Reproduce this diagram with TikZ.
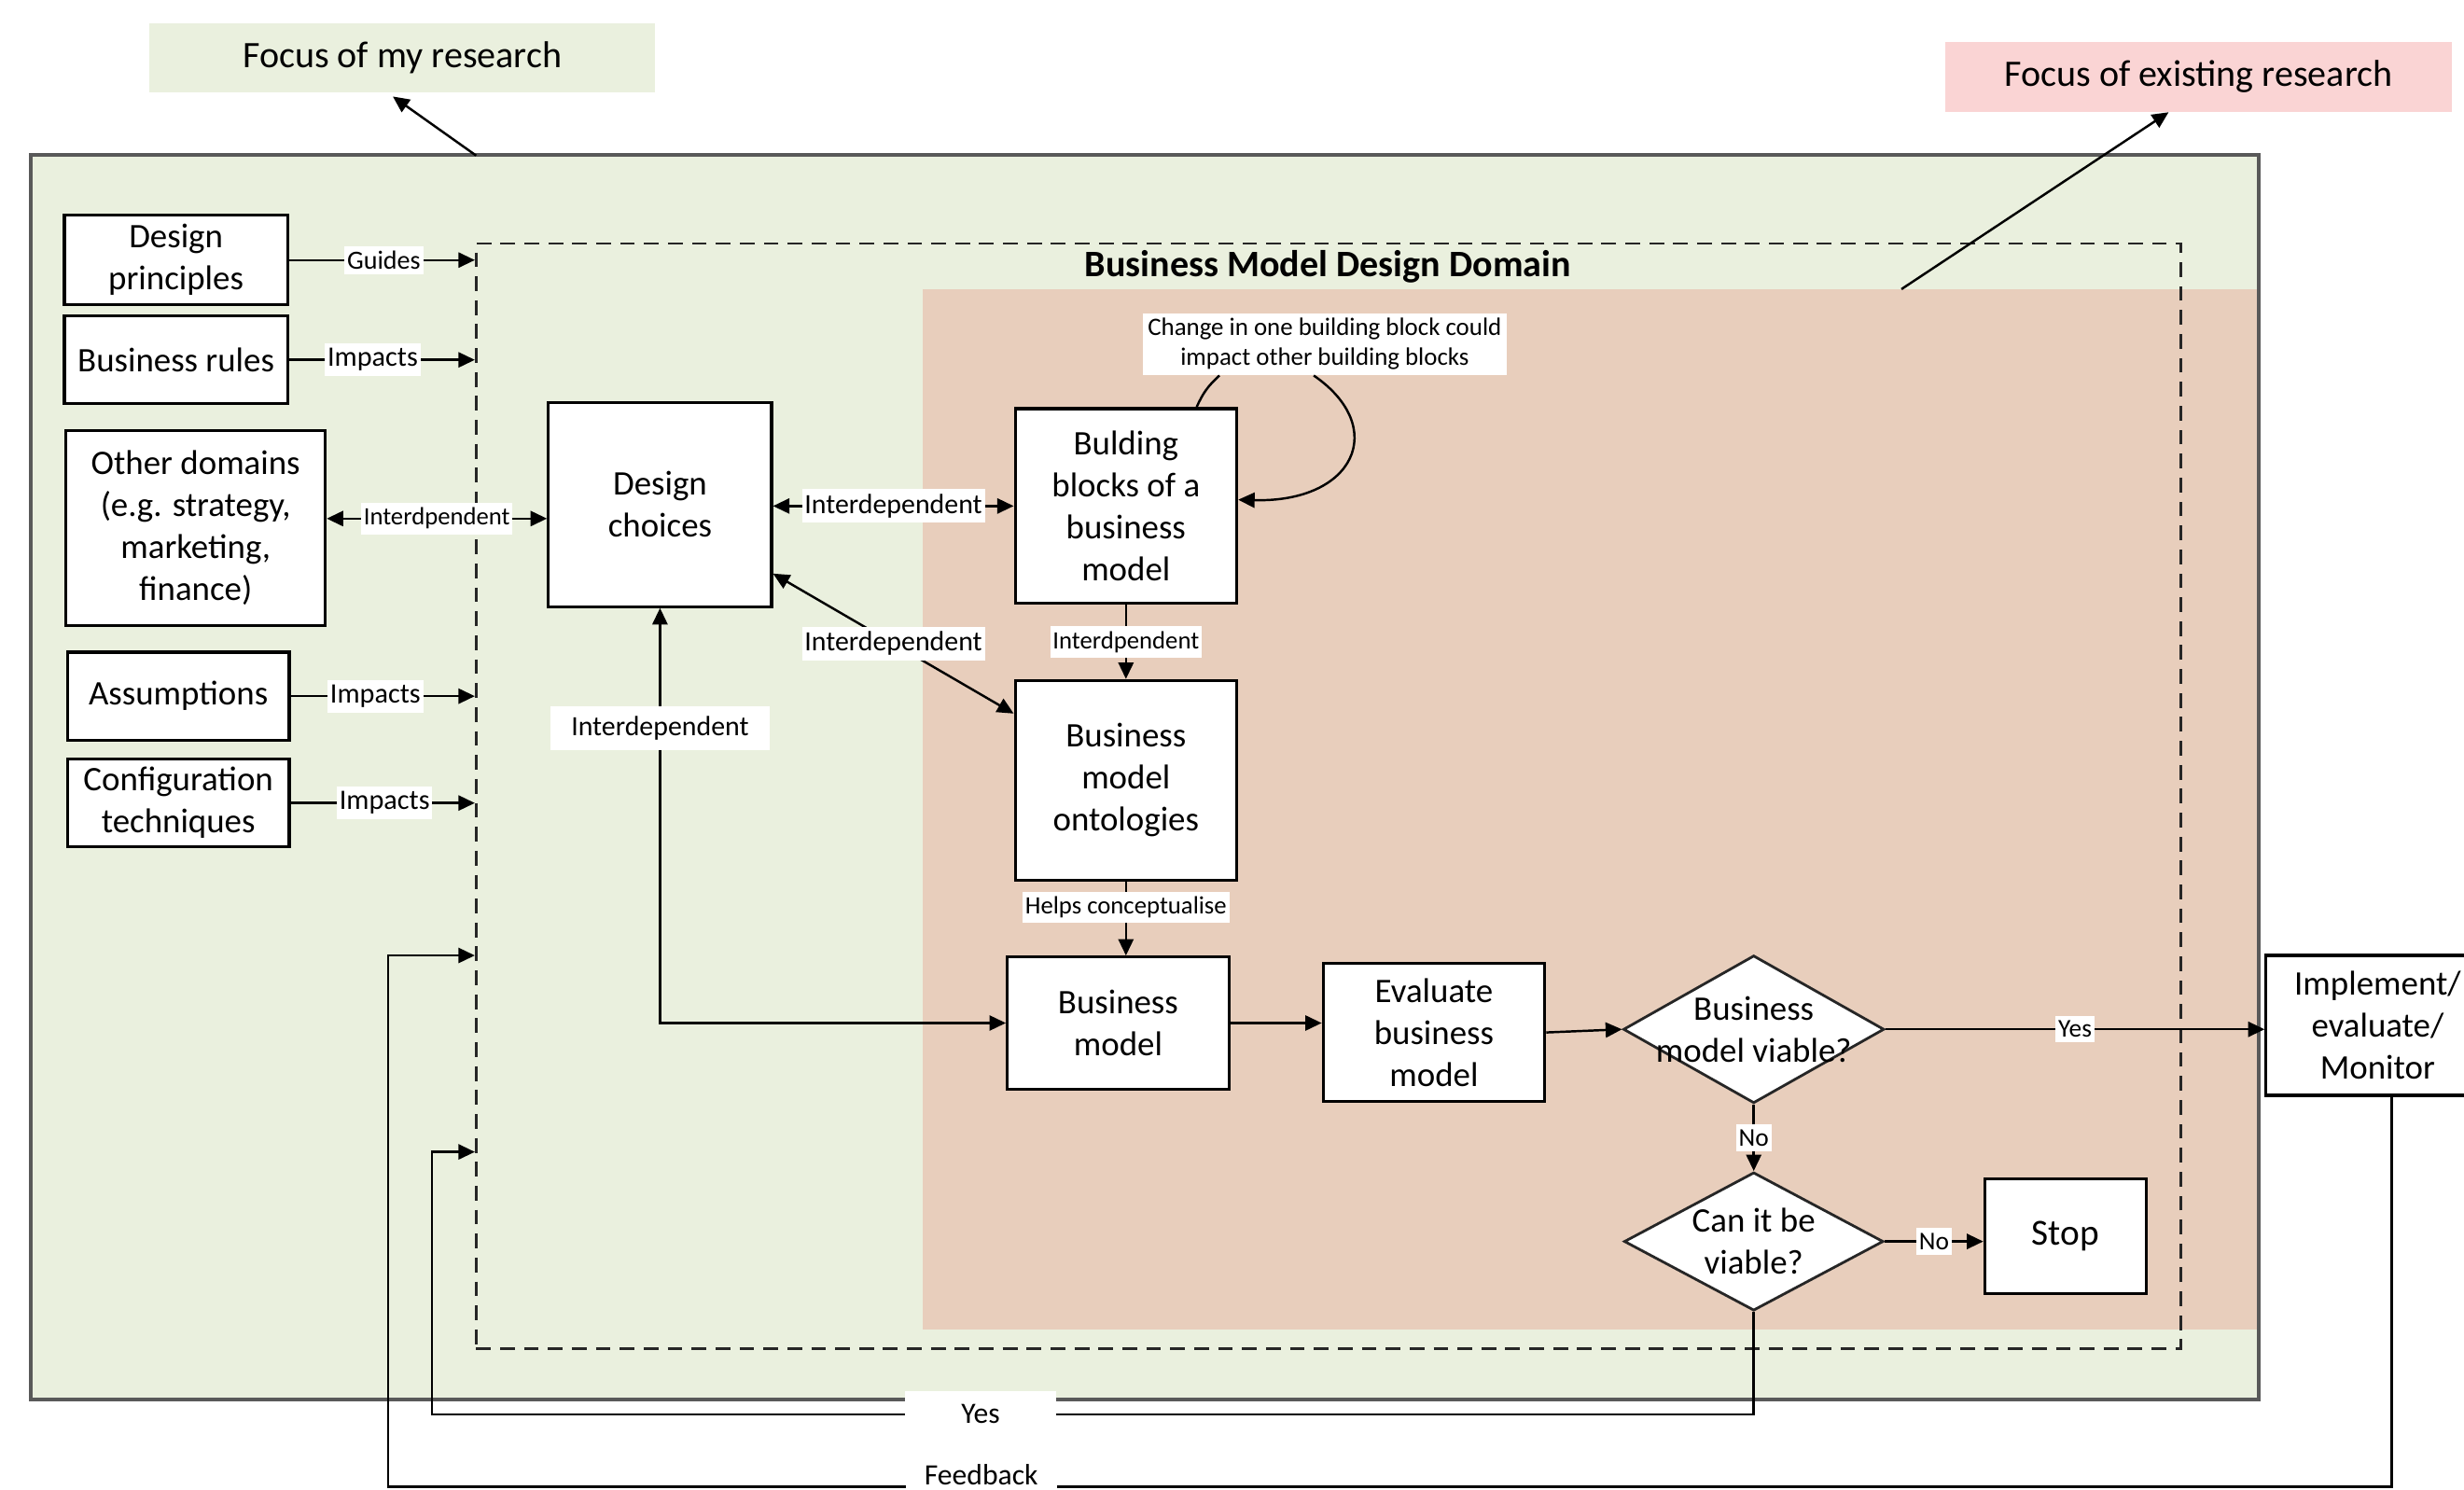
\documentclass[tikz,border=0pt]{standalone}
\usepackage{fontspec}
\setmainfont{Carlito}
\usetikzlibrary{arrows.meta,shapes.geometric,fit,calc}
\definecolor{greenbg}{HTML}{EAF0DE}
\definecolor{pinkbg}{HTML}{E8CEBC}
\definecolor{pinkbox}{HTML}{FAD4D4}
\definecolor{outline}{HTML}{595959}
\newcommand{\fsz}[2]{\fontsize{#1}{#2}\selectfont}
\def\pxu{0.016843cm}
\begin{document}
\begin{tikzpicture}[x=0.016843cm,y=-0.016843cm,
  sz/.style 2 args={minimum width={#1*\pxu}, minimum height={#2*\pxu}},
  box/.style={rectangle, draw=black, line width=0.9pt, fill=white, inner sep=0pt, align=center, font={\fsz{10.5}{12.8}}},
  dia/.style={diamond, draw=black!85, line width=0.8pt, fill=white, inner sep=0pt},
  diatext/.style={align=center, font={\fsz{10.5}{12.8}}},
  conn/.style={line width=0.7pt},
  arr/.style={line width=0.7pt, -{Triangle[length=5pt,width=4.6pt]}},
  darr/.style={line width=0.7pt, {Triangle[length=5pt,width=4.6pt]}-{Triangle[length=5pt,width=4.6pt]}},
  lbl/.style={fill=white, inner xsep=0.8pt, inner ysep=1.5pt, font={\fsz{8}{9.5}}},
  lblbig/.style={fill=white, inner sep=0pt, minimum width={96*\pxu}, minimum height={30*\pxu}, font={\fsz{9}{10.5}}},
  focus/.style={rectangle, inner sep=0pt, font={\fsz{11.4}{13.5}}}
]
\useasboundingbox (0,0) rectangle (1568,948);
\clip (0,0) rectangle (1568,948);

% focus labels
\node[focus, fill=greenbg, sz={322}{44}] (fmr) at (256,37) {Focus of my research};
\node[focus, fill=pinkbox, sz={322}{44}] (fer) at (1399,49) {Focus of existing research};

% background areas
\node[fill=greenbg, inner sep=0pt, fit={(20,99)(1437,890)}] (outer) {};
\node[fill=pinkbg, inner sep=0pt, fit={(587,184)(1437,846)}] (pinkarea) {};
\draw[outline, line width=1.2pt] (outer.north west) rectangle (outer.south east);

% dashed domain
\node[draw=black!85, line width=0.8pt, dash pattern=on 4.5pt off 2.8pt, inner sep=0pt, fit={(303,155)(1388,858)}] (dom) {};
\node[font={\bfseries\fsz{11.4}{13.5}}] (title) at (845,170) {Business Model Design Domain};

% focus arrows
\coordinate (fa1) at (303,99);
\coordinate (fa2) at (1210,184);
\draw[arr] (fa1) -- ($(fmr.south)+(-6,2)$);
\draw[arr] (fa2) -- ($(fer.south)+(-19,0)$);

% left boxes
\node[box, sz={142}{57}] (dp) at (112,165.5) {Design\\principles};
\node[box, sz={142}{56}] (br) at (112,229) {Business rules};
\node[box, sz={165}{124}] (od) at (124.5,336) {Other domains\\(e.g. strategy,\\marketing,\\finance)};
\node[box, sz={141}{56}] (as) at (113.5,443) {Assumptions};
\node[box, sz={141}{56}] (ct) at (113.5,511) {Configuration\\techniques};

% inner boxes
\node[box, sz={142}{130}] (dc) at (420,321) {Design\\choices};
\node[box, sz={141}{124}] (bb) at (716.5,322) {Bulding\\blocks of a\\business\\model};
\node[box, sz={141}{127}] (bmo) at (716.5,496.5) {Business\\model\\ontologies};
\node[box, sz={141}{84}] (bm) at (711.5,651) {Business\\model};
\node[box, sz={141}{88}] (ev) at (912.5,657) {Evaluate\\business\\model};
\node[dia, sz={166}{94}] (d1) at (1116,655) {};
\node[diatext] (d1t) at (d1) {Business\\model viable?};
\node[dia, sz={165}{88}] (d2) at (1116,790) {};
\node[diatext] (d2t) at (d2) {Can it be\\viable?};
\node[box, font={\fsz{11.2}{13}}, sz={103}{73}] (stop) at (1314.5,786.5) {Stop};
\node[box, sz={142}{89}] (impl) at (1513,652.5) {Implement/\\evaluate/\\Monitor};

% left arrows
\draw[arr] (dp.east) -- node[lbl, pos=0.51]{Guides} (dp.east -| dom.west);
\draw[arr] (br.east) -- node[lbl, pos=0.45, font={\fsz{8.6}{10}}]{Impacts} (br.east -| dom.west);
\coordinate (yod) at (0,330);
\draw[darr] (od.east |- yod) -- node[lbl, font={\fsz{7.6}{9}}]{Interdpendent} (dc.west |- yod);
\draw[arr] (as.east) -- node[lbl, pos=0.46, font={\fsz{8.6}{10}}]{Impacts} (as.east -| dom.west);
\draw[arr] (ct.east) -- node[lbl, pos=0.51, font={\fsz{8.6}{10}}]{Impacts} (ct.east -| dom.west);

% inner connectors
\draw[darr] (dc.east |- bb.west) -- node[lbl, font={\fsz{8.5}{10}}]{Interdependent} (bb.west);
\draw[darr] ($(dc.east)+(0,44)$) -- node[lbl, font={\fsz{8.5}{10}}]{Interdependent} ($(bmo.north west)+(0,22)$);
\draw[arr] (bb.south) -- node[lbl, font={\fsz{7.6}{9}}]{Interdpendent} (bmo.north);
\draw[arr] (bmo.south) -- node[lbl, pos=0.35, font={\fsz{7.6}{9}}]{Helps conceptualise} (bmo.south |- bm.north);
\draw[darr] (dc.south) -- node[lbl, pos=0.29, inner sep=0pt, sz={140}{28}, font={\fsz{8.5}{10}}]{Interdependent} (dc.south |- bm.west) -- (bm.west);

% change label
\node[lbl, align=center, inner xsep=1.5pt, font={\fsz{7.65}{9.1}}] (chg) at (843,219) {Change in one building block could\\impact other building blocks};
\draw[conn] ($(chg.south)+(-67,0)$) to[bend right=12] ($(bb.north)+(45,0)$);
\draw[arr] ($(chg.south)+(-7,0)$) .. controls (884,272) and (862,320) .. ($(bb.east)+(0,-4)$);

% flow
\draw[arr] (bm.east) -- (bm.east -| ev.west);
\draw[arr] (ev.east) -- (d1.west);
\draw[arr] (d1.east) -- node[lbl, font={\fsz{7.8}{9}}]{Yes} (d1.east -| impl.west);
\draw[arr] (d1.south) -- node[lbl, font={\fsz{7.8}{9}}]{No} (d2.north);
\draw[arr] (d2.east) -- node[lbl, font={\fsz{7.8}{9}}]{No} (d2.east -| stop.west);

% loops
\coordinate (ybot) at (275,900);
\coordinate (yup) at (275,733);
\draw[arr] (d2.south) -- (d2.south |- ybot) -- node[lblbig, pos=0.585]{Yes} (ybot) -- (yup) -- (yup -| dom.west);
\coordinate (fbot) at (247,946);
\coordinate (fup) at (247,608);
\coordinate (fstart) at ($(impl.south)+(9,0)$);
\draw[arr] (fstart) -- (fstart |- fbot) -- node[lblbig, pos=0.704, yshift=3.6pt]{Feedback} (fbot) -- (fup) -- (fup -| dom.west);
\end{tikzpicture}
\end{document}
